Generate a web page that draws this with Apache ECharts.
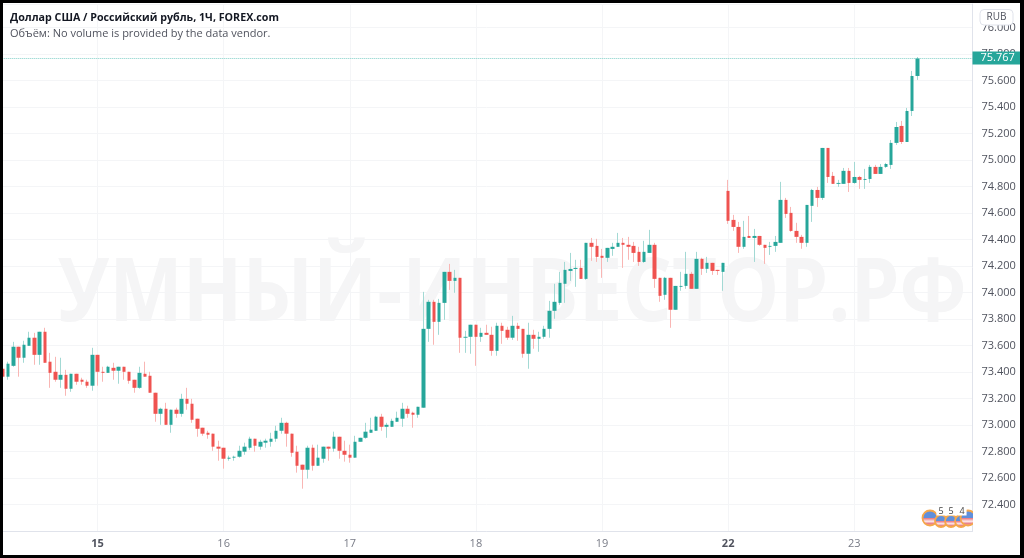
<!DOCTYPE html>
<html>
<head>
<meta charset="utf-8">
<script src="https://cdn.jsdelivr.net/npm/echarts@6/dist/echarts.min.js"></script>
<style>
  html, body { margin: 0; padding: 0; background: #fff; }
  #chart { width: 1024px; height: 558px; }
  #frame { position: absolute; left: 0; top: 0; width: 1024px; height: 558px; box-sizing: border-box;
    border-style: solid; border-color: #000; border-width: 3px 4px 3px 3px; pointer-events: none; }
</style>
</head>
<body>
<div id="chart"></div>
<div id="frame"></div>
<script>
const titleText = 'Доллар США / Российский рубль, 1Ч, FOREX.com'
const subText = 'Объём: No volume is provided by the data vendor.'
const watermark = 'УМНЫЙ-ИНВЕСТОР.РФ'
const currency = 'RUB'
const lastPrice = 75.767

const dayLabels = ['15', '16', '17', '18', '19', '22', '23']
const boldDays = ['15', '22']
const dayStarts = [18, 42, 66, 90, 114, 138, 162]
const eventCounts = ['5', '5', '4']

const opens = [
  73.425, 73.365, 73.447, 73.591, 73.508, 73.598, 73.659, 73.530, 73.704, 73.478, 73.402, 73.342, 73.379, 73.274, 73.387, 73.342, 73.327, 73.297,
  73.530, 73.402, 73.394, 73.432, 73.410, 73.440, 73.402, 73.342, 73.281, 73.387, 73.372, 73.244, 73.085, 73.123, 73.002, 73.116, 73.085, 73.198, 73.161, 73.048, 72.980, 72.942, 72.935, 72.837,
  72.829, 72.746, 72.754, 72.761, 72.799, 72.829, 72.897, 72.837, 72.867, 72.874, 72.897, 72.957, 73.017, 72.935, 72.799, 72.701, 72.663, 72.829, 72.693, 72.746, 72.837, 72.822, 72.912, 72.806,
  72.776, 72.754, 72.874, 72.904, 72.942, 72.957, 73.063, 72.987, 72.987, 73.025, 73.048, 73.123, 73.093, 73.078, 73.131, 73.726, 73.930, 73.779, 73.922, 74.156, 74.088, 74.111, 73.659, 73.666,
  73.757, 73.666, 73.696, 73.681, 73.560, 73.749, 73.719, 73.659, 73.749, 73.726, 73.538, 73.681, 73.651, 73.666, 73.726, 73.862, 73.922, 74.066, 74.163, 74.178, 74.186, 74.103, 74.375, 74.352,
  74.277, 74.262, 74.329, 74.345, 74.375, 74.360, 74.352, 74.307, 74.231, 74.299, 74.360, 74.111, 73.983, 74.111, 73.870, 74.043, 74.050, 74.141, 74.028, 74.254, 74.179, 74.224, 74.171, 74.156,
  74.767, 74.548, 74.495, 74.345, 74.427, 74.412, 74.427, 74.360, 74.345, 74.352, 74.375, 74.699, 74.601, 74.465, 74.420, 74.375, 74.654, 74.774, 74.714, 75.091, 74.880, 74.820, 74.820, 74.918,
  74.827, 74.872, 74.850, 74.857, 74.948, 74.895, 74.948, 74.963, 75.129, 75.257, 75.136, 75.370, 75.634
]
const closes = [
  73.365, 73.463, 73.591, 73.508, 73.606, 73.659, 73.530, 73.704, 73.470, 73.394, 73.342, 73.379, 73.274, 73.387, 73.327, 73.327, 73.297, 73.530,
  73.402, 73.394, 73.440, 73.410, 73.440, 73.402, 73.334, 73.281, 73.394, 73.365, 73.244, 73.085, 73.123, 73.002, 73.116, 73.085, 73.198, 73.161, 73.040, 72.972, 72.935, 72.927, 72.837, 72.822,
  72.746, 72.754, 72.761, 72.806, 72.837, 72.897, 72.844, 72.874, 72.882, 72.897, 72.957, 73.017, 72.935, 72.791, 72.693, 72.663, 72.829, 72.693, 72.754, 72.837, 72.822, 72.912, 72.806, 72.776,
  72.754, 72.874, 72.904, 72.950, 72.965, 73.063, 72.987, 73.002, 73.032, 73.055, 73.123, 73.085, 73.078, 73.138, 73.726, 73.930, 73.779, 73.922, 74.156, 74.088, 74.111, 73.659, 73.666, 73.757,
  73.666, 73.696, 73.681, 73.560, 73.749, 73.711, 73.659, 73.749, 73.726, 73.538, 73.681, 73.651, 73.666, 73.726, 73.862, 73.930, 74.073, 74.171, 74.178, 74.186, 74.103, 74.375, 74.345, 74.269,
  74.262, 74.337, 74.345, 74.375, 74.360, 74.345, 74.299, 74.231, 74.307, 74.360, 74.103, 73.975, 74.111, 73.870, 74.050, 74.050, 74.141, 74.028, 74.254, 74.179, 74.224, 74.163, 74.163, 74.224,
  74.541, 74.495, 74.345, 74.420, 74.412, 74.427, 74.360, 74.337, 74.352, 74.382, 74.699, 74.593, 74.465, 74.420, 74.375, 74.661, 74.774, 74.714, 75.091, 74.872, 74.820, 74.827, 74.918, 74.827,
  74.872, 74.850, 74.857, 74.948, 74.895, 74.948, 74.970, 75.129, 75.249, 75.136, 75.370, 75.634, 75.767
]
const lows = [
  73.365, 73.342, 73.440, 73.365, 73.470, 73.598, 73.455, 73.455, 73.470, 73.281, 73.327, 73.281, 73.221, 73.251, 73.304, 73.304, 73.281, 73.259,
  73.297, 73.327, 73.394, 73.342, 73.312, 73.342, 73.312, 73.244, 73.274, 73.365, 73.244, 73.025, 73.002, 73.002, 72.942, 73.055, 73.063, 73.116, 73.017, 72.912, 72.919, 72.897, 72.806, 72.731,
  72.671, 72.731, 72.731, 72.754, 72.776, 72.814, 72.799, 72.814, 72.829, 72.837, 72.874, 72.935, 72.837, 72.761, 72.641, 72.520, 72.596, 72.656, 72.693, 72.716, 72.731, 72.799, 72.746, 72.724,
  72.716, 72.754, 72.874, 72.897, 72.942, 72.957, 72.957, 72.904, 72.987, 73.025, 72.987, 73.055, 72.980, 73.055, 73.131, 73.628, 73.606, 73.681, 73.794, 74.020, 73.998, 73.545, 73.545, 73.538,
  73.447, 73.628, 73.681, 73.523, 73.523, 73.613, 73.643, 73.643, 73.636, 73.508, 73.425, 73.576, 73.553, 73.651, 73.659, 73.802, 73.907, 73.922, 74.088, 74.043, 74.103, 74.096, 74.239, 74.231,
  74.111, 74.231, 74.277, 74.345, 74.186, 74.247, 74.231, 74.201, 74.224, 74.299, 74.035, 73.930, 73.945, 73.734, 73.870, 74.013, 74.028, 74.028, 74.028, 74.133, 74.148, 74.133, 74.133, 74.013,
  74.518, 74.465, 74.299, 74.330, 74.412, 74.231, 74.352, 74.216, 74.284, 74.307, 74.375, 74.563, 74.458, 74.375, 74.330, 74.345, 74.533, 74.646, 74.699, 74.827, 74.820, 74.797, 74.820, 74.759,
  74.820, 74.782, 74.782, 74.827, 74.895, 74.895, 74.940, 74.933, 75.114, 75.121, 75.136, 75.332, 75.604
]
const highs = [
  73.440, 73.478, 73.628, 73.591, 73.636, 73.704, 73.696, 73.704, 73.734, 73.545, 73.515, 73.508, 73.417, 73.387, 73.387, 73.357, 73.342, 73.583,
  73.530, 73.440, 73.447, 73.470, 73.440, 73.440, 73.402, 73.342, 73.440, 73.478, 73.402, 73.244, 73.131, 73.168, 73.116, 73.131, 73.236, 73.281, 73.198, 73.048, 72.980, 72.957, 72.935, 72.882,
  72.829, 72.769, 72.769, 72.844, 72.867, 72.912, 72.897, 72.889, 72.897, 72.942, 72.995, 73.055, 73.025, 72.935, 72.844, 72.701, 72.844, 72.852, 72.852, 72.837, 72.837, 72.950, 72.912, 72.882,
  72.852, 72.919, 72.904, 73.017, 73.055, 73.070, 73.085, 73.017, 73.048, 73.101, 73.168, 73.146, 73.101, 73.138, 74.005, 73.945, 73.945, 73.952, 74.156, 74.216, 74.171, 74.111, 73.711, 73.757,
  73.757, 73.734, 73.757, 73.742, 73.772, 73.772, 73.742, 73.824, 73.772, 73.726, 73.772, 73.719, 73.704, 73.749, 73.937, 74.066, 74.156, 74.231, 74.299, 74.247, 74.247, 74.375, 74.412, 74.405,
  74.329, 74.337, 74.375, 74.450, 74.412, 74.420, 74.382, 74.345, 74.390, 74.473, 74.375, 74.111, 74.118, 74.111, 74.050, 74.156, 74.307, 74.156, 74.307, 74.262, 74.269, 74.224, 74.171, 74.224,
  74.850, 74.586, 74.533, 74.541, 74.578, 74.480, 74.427, 74.360, 74.382, 74.427, 74.835, 74.714, 74.646, 74.526, 74.435, 74.661, 74.782, 74.797, 75.091, 75.091, 74.910, 74.850, 74.940, 74.940,
  74.985, 74.880, 74.933, 74.963, 74.963, 74.970, 74.978, 75.151, 75.287, 75.295, 75.393, 75.672, 75.777
]

const emptyBars = 10
const categories = []
for (let i = 0; i < opens.length + emptyBars; i++) {
  const at = dayStarts.indexOf(i)
  categories.push(at >= 0 ? dayLabels[at] : '')
}
const isDayStart = (i) => dayStarts.includes(i)

// wicks and bodies are two series, the wicks are paler than the bodies
const wickData = opens.map((o, i) => [o, closes[i], lows[i], highs[i]])
const bodyData = opens.map((o, i) => {
  const c = closes[i]
  return [o, c, Math.min(o, c), Math.max(o, c)]
})

const up = '#26a69a'
const down = '#ef5350'
const upWick = '#a3d9d4'
const downWick = '#f9b6b4'

// little flag markers in the bottom right corner
const flag = (cx, cy, r) => ({
  type: 'circle',
  z: 5,
  silent: true,
  shape: { cx, cy, r },
  style: {
    stroke: '#f5a74a',
    lineWidth: 1.8,
    fill: {
      type: 'linear', x: 0, y: 0, x2: 0, y2: 1,
      colorStops: [
        { offset: 0, color: '#5f8fdc' }, { offset: 0.5, color: '#5f8fdc' },
        { offset: 0.5, color: '#e8707a' }, { offset: 0.7, color: '#fbe9ea' },
        { offset: 0.85, color: '#e8707a' }, { offset: 1, color: '#fbe9ea' }
      ]
    }
  }
})
const countLabel = (text, cx) => ({
  type: 'text',
  z: 6,
  silent: true,
  x: cx,
  y: 511,
  style: {
    text, fontFamily: 'Open Sans', fontSize: 9, fill: '#444', align: 'center', verticalAlign: 'middle',
    backgroundColor: '#fff', padding: [0, 2]
  }
})

const chart = echarts.init(document.getElementById('chart'), null, { renderer: 'canvas' })
chart.setOption({
  animation: false,
  backgroundColor: '#fff',
  title: {
    text: titleText,
    subtext: subText,
    left: 10,
    top: 10,
    padding: 0,
    itemGap: 1,
    textStyle: { fontFamily: 'Open Sans', fontSize: 10.7, fontWeight: 700, color: '#131722', lineHeight: 15 },
    subtextStyle: { fontFamily: 'Open Sans', fontSize: 11, color: '#50535e', lineHeight: 15 }
  },
  grid: { left: 0.3, width: 972.2, top: 4, height: 527.1 },
  xAxis: {
    type: 'category',
    data: categories,
    boundaryGap: true,
    axisLine: { show: true, lineStyle: { color: '#e0e3eb' } },
    axisTick: { show: false },
    axisLabel: {
      interval: (i) => isDayStart(i),
      formatter: (v) => (boldDays.includes(v) ? `{b|${v}}` : v),
      rich: { b: { fontFamily: 'Open Sans', fontSize: 11, fontWeight: 700, color: '#50535e' } },
      fontFamily: 'Open Sans',
      fontSize: 11,
      color: '#787b86',
      margin: 7
    },
    splitLine: {
      show: true,
      alignWithLabel: true,
      interval: (i) => isDayStart(i),
      lineStyle: { color: '#f4f5f7' }
    }
  },
  yAxis: {
    type: 'value',
    position: 'right',
    min: 72.2,
    max: 76.177,
    interval: 0.2,
    axisLine: { show: true, lineStyle: { color: '#e0e3eb' } },
    axisTick: { show: false },
    axisLabel: {
      showMinLabel: false,
      showMaxLabel: false,
      formatter: (v) => v.toFixed(3),
      fontFamily: 'Open Sans',
      fontSize: 11,
      color: '#50535e',
      margin: 9,
      padding: [2, 0, 0, 0]
    },
    splitLine: { show: true, lineStyle: { color: '#f4f5f7' } }
  },
  series: [
    {
      name: 'wicks',
      type: 'candlestick',
      data: wickData,
      barWidth: 1,
      itemStyle: { color: upWick, color0: downWick, borderColor: upWick, borderColor0: downWick, borderWidth: 1 },
      markLine: {
        silent: true,
        symbol: 'none',
        animation: false,
        lineStyle: { type: 'dotted', color: '#7fcfc7', width: 1 },
        label: {
          position: 'end',
          distance: 0,
          formatter: lastPrice.toFixed(3),
          backgroundColor: up,
          color: '#fff',
          fontFamily: 'Open Sans',
          fontSize: 11,
          padding: [1, 10, 1, 8]
        },
        data: [{ yAxis: lastPrice }]
      }
    },
    {
      name: 'bodies',
      type: 'candlestick',
      data: bodyData,
      barWidth: 4,
      itemStyle: { color: up, color0: down, borderColor: up, borderColor0: down, borderWidth: 0 }
    }
  ],
  graphic: [
    {
      type: 'text',
      z: -1,
      silent: true,
      x: 512,
      y: 296,
      scaleY: 1.12,
      style: {
        text: watermark,
        fontFamily: 'Open Sans',
        fontWeight: 700,
        fontSize: 78,
        fill: '#f5f5f6',
        align: 'center',
        verticalAlign: 'middle'
      }
    },
    flag(930, 518, 7.5),
    flag(941, 521, 6),
    flag(951, 521, 6),
    flag(961, 521, 6),
    flag(968, 518, 7.5),
    { type: 'rect', z: 5, silent: true, shape: { x: 973, y: 508, width: 6, height: 20 }, style: { fill: '#fff' } },
    countLabel(eventCounts[0], 941),
    countLabel(eventCounts[1], 951),
    countLabel(eventCounts[2], 962),
    {
      type: 'rect',
      z: 20,
      silent: true,
      shape: { x: 980, y: 9.5, width: 33, height: 15.5, r: 4 },
      style: { fill: '#fff', stroke: '#e0e3eb', lineWidth: 1 }
    },
    {
      type: 'text',
      z: 21,
      silent: true,
      x: 996.5,
      y: 17.5,
      style: { text: currency, fontFamily: 'Open Sans', fontSize: 10, fill: '#50535e', align: 'center', verticalAlign: 'middle' }
    }
  ]
})
</script>
</body>
</html>
